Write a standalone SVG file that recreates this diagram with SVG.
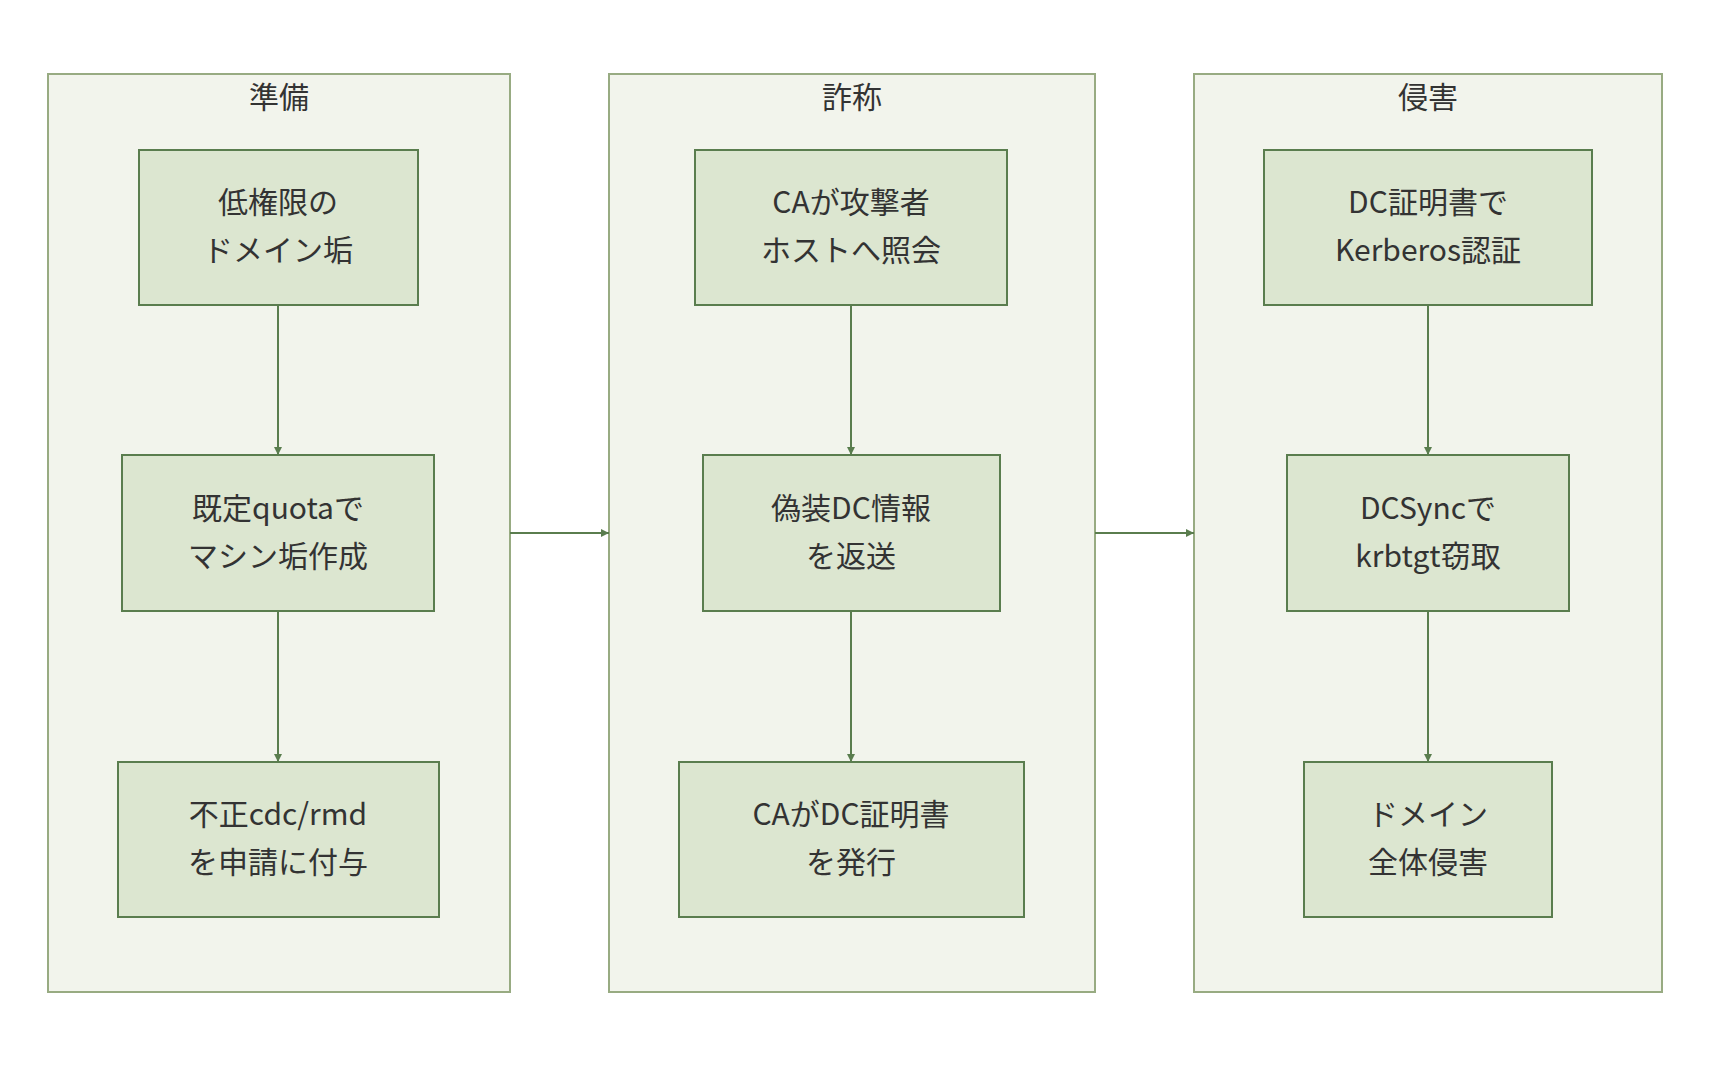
<svg xmlns="http://www.w3.org/2000/svg" width="1710" height="1070" viewBox="0 0 1710 1070">
<style>
.cl{fill:#f2f4ec;stroke:#98ab82;stroke-width:2}
.nd{fill:#dce6d0;stroke:#5a7d4e;stroke-width:2}
text{font-family:"Noto Sans CJK JP","Noto Sans",sans-serif;font-size:30px;fill:#333;text-anchor:middle}
.e{stroke:#5a7d4e;stroke-width:2;fill:none;marker-end:url(#a)}
</style>
<defs><marker id="a" viewBox="0 0 10 10" refX="10" refY="5" markerWidth="8" markerHeight="8" orient="auto" markerUnits="userSpaceOnUse"><path d="M0,0L10,5L0,10z" fill="#5a7d4e"/></marker></defs>
<rect width="1710" height="1070" fill="#fff"/>
<g id="c1"><rect class="cl" x="48" y="74" width="462" height="918"/><text x="279" y="108">準備</text></g>
<g id="c2"><rect class="cl" x="609" y="74" width="486" height="918"/><text x="852" y="108">詐称</text></g>
<g id="c3"><rect class="cl" x="1194" y="74" width="468" height="918"/><text x="1428" y="108">侵害</text></g>
<g id="n1"><rect class="nd" x="139" y="150" width="279" height="155"/><text x="278" y="213">低権限の</text><text x="278" y="261">ドメイン垢</text></g>
<g id="n2"><rect class="nd" x="122" y="455" width="312" height="156"/><text x="278" y="519">既定quotaで</text><text x="278" y="567">マシン垢作成</text></g>
<g id="n3"><rect class="nd" x="118" y="762" width="321" height="155"/><text x="278" y="825">不正cdc/rmd</text><text x="278" y="873">を申請に付与</text></g>
<g id="n4"><rect class="nd" x="695" y="150" width="312" height="155"/><text x="851" y="213">CAが攻撃者</text><text x="851" y="261">ホストへ照会</text></g>
<g id="n5"><rect class="nd" x="703" y="455" width="297" height="156"/><text x="851" y="519">偽装DC情報</text><text x="851" y="567">を返送</text></g>
<g id="n6"><rect class="nd" x="679" y="762" width="345" height="155"/><text x="851" y="825">CAがDC証明書</text><text x="851" y="873">を発行</text></g>
<g id="n7"><rect class="nd" x="1264" y="150" width="328" height="155"/><text x="1428" y="213">DC証明書で</text><text x="1428" y="261">Kerberos認証</text></g>
<g id="n8"><rect class="nd" x="1287" y="455" width="282" height="156"/><text x="1428" y="519">DCSyncで</text><text x="1428" y="567">krbtgt窃取</text></g>
<g id="n9"><rect class="nd" x="1304" y="762" width="248" height="155"/><text x="1428" y="825">ドメイン</text><text x="1428" y="873">全体侵害</text></g>
<g id="edges">
<path class="e" d="M278,305V455"/><path class="e" d="M278,611V762"/>
<path class="e" d="M851,305V455"/><path class="e" d="M851,611V762"/>
<path class="e" d="M1428,305V455"/><path class="e" d="M1428,611V762"/>
<path class="e" d="M510,533H609"/><path class="e" d="M1095,533H1194"/>
</g>
</svg>
